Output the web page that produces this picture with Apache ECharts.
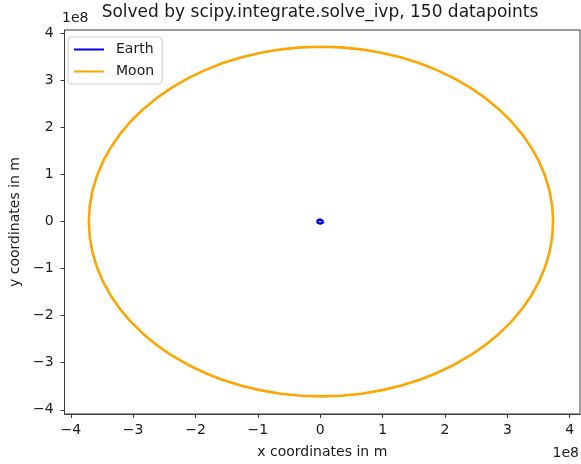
<!DOCTYPE html>
<html>
<head>
<meta charset="utf-8">
<script src="https://cdn.jsdelivr.net/npm/echarts@6/dist/echarts.min.js"></script>
<style>
html,body{margin:0;padding:0;background:#fff;}
#chart{width:581px;height:464px;}
</style>
</head>
<body>
<div id="chart"></div>
<script>
// Values, in units of 1e8 m
const moonX = [3.734, 3.720, 3.678, 3.607, 3.510, 3.385, 3.235, 3.061, 2.863, 2.644, 2.405, 2.147, 1.873, 1.585, 1.285, 0.975, 0.658, 0.336, 0.012,
  -0.312, -0.634, -0.951, -1.261, -1.561, -1.849, -2.123, -2.380, -2.620, -2.839, -3.037, -3.211, -3.361, -3.486, -3.583, -3.654, -3.696, -3.710,
  -3.696, -3.654, -3.583, -3.486, -3.361, -3.211, -3.037, -2.839, -2.620, -2.380, -2.123, -1.849, -1.561, -1.261, -0.951, -0.634, -0.312, 0.012,
  0.336, 0.658, 0.975, 1.285, 1.585, 1.873, 2.147, 2.405, 2.644, 2.863, 3.061, 3.235, 3.385, 3.510, 3.607, 3.678, 3.720, 3.734];
const moonY = [0, 0.324, 0.645, 0.962, 1.271, 1.570, 1.858, 2.131, 2.388, 2.627, 2.846, 3.043, 3.217, 3.367, 3.491, 3.588, 3.659, 3.701, 3.715,
  3.701, 3.659, 3.588, 3.491, 3.367, 3.217, 3.043, 2.846, 2.627, 2.388, 2.131, 1.858, 1.570, 1.271, 0.962, 0.645, 0.324, 0,
  -0.324, -0.645, -0.962, -1.271, -1.570, -1.858, -2.131, -2.388, -2.627, -2.846, -3.043, -3.217, -3.367, -3.491, -3.588, -3.659, -3.701, -3.715,
  -3.701, -3.659, -3.588, -3.491, -3.367, -3.217, -3.043, -2.846, -2.627, -2.388, -2.131, -1.858, -1.570, -1.271, -0.962, -0.645, -0.324, 0];
const earthX = [0.050, 0.043, 0.025, 0, -0.025, -0.043, -0.050, -0.043, -0.025, 0, 0.025, 0.043, 0.050];
const earthY = [0, 0.023, 0.039, 0.045, 0.039, 0.023, 0, -0.023, -0.039, -0.045, -0.039, -0.023, 0];
const tickValues = [-4, -3, -2, -1, 0, 1, 2, 3, 4];
const UNIT = 1e8;
const titleText = 'Solved by scipy.integrate.solve_ivp, 150 datapoints';
const xName = 'x coordinates in m';
const yName = 'y coordinates in m';
const offsetText = '1e8';

const pairs = (xs, ys) => xs.map((x, i) => [x * UNIT, ys[i] * UNIT]);
const ticksM = tickValues.map(v => v * UNIT);
const fmt = v => { const n = Math.round(v / UNIT); return n < 0 ? '\u2212' + (-n) : String(n); };
const FONT = 'DejaVu Sans';
const FS = 14;
const TXT = '#1a1a1a';
const AX = '#3a3a3a';

const axisCommon = {
  type: 'value',
  splitLine: {show: false},
  axisLine: {show: true, onZero: false, lineStyle: {color: AX, width: 1}},
  axisTick: {show: true, length: 4, inside: false, lineStyle: {color: AX, width: 1}, customValues: ticksM},
  nameTextStyle: {fontFamily: FONT, fontSize: FS, color: TXT},
  nameLocation: 'middle'
};

const chart = echarts.init(document.getElementById('chart'), null, {renderer: 'canvas'});
chart.setOption({
  animation: false,
  backgroundColor: '#fff',
  grid: {left: 62, right: 1, top: 30, bottom: 49, show: true, borderColor: AX, borderWidth: 1, containLabel: false},
  legend: {
    data: ['Earth', 'Moon'],
    left: 68, top: 37, orient: 'vertical',
    icon: 'rect',
    itemWidth: 30, itemHeight: 2, itemGap: 5,
    padding: [4, 8, 4, 6],
    borderColor: '#cccccc', borderWidth: 1, borderRadius: 3,
    backgroundColor: 'rgba(255,255,255,0.8)',
    textStyle: {fontFamily: FONT, fontSize: FS, color: TXT, padding: [0, 0, 0, 7], lineHeight: 17}
  },
  xAxis: Object.assign({}, axisCommon, {
    min: -4.10 * UNIT, max: 4.165 * UNIT,
    name: xName, nameGap: 31,
    axisLabel: {customValues: ticksM, formatter: fmt, fontFamily: FONT, fontSize: FS, color: TXT, margin: 9}
  }),
  yAxis: Object.assign({}, axisCommon, {
    min: -4.09 * UNIT, max: 4.07 * UNIT,
    name: yName, nameGap: 38,
    axisLabel: {customValues: ticksM, formatter: fmt, fontFamily: FONT, fontSize: FS, color: TXT, margin: 11}
  }),
  graphic: [
    {type: 'text', x: 320, y: 4, style: {text: titleText, font: '17px "DejaVu Sans"', fill: TXT, textAlign: 'center', textVerticalAlign: 'top'}},
    {type: 'text', x: 62, y: 11, style: {text: offsetText, font: FS + 'px "DejaVu Sans"', fill: TXT, textAlign: 'left', textVerticalAlign: 'top'}},
    {type: 'text', x: 579, y: 446, style: {text: offsetText, font: FS + 'px "DejaVu Sans"', fill: TXT, textAlign: 'right', textVerticalAlign: 'top'}}
  ],
  series: [
    {name: 'Earth', type: 'line', data: pairs(earthX, earthY), symbol: 'none', smooth: false,
      lineStyle: {color: '#0000ff', width: 2.4}, itemStyle: {color: '#0000ff'}},
    {name: 'Moon', type: 'line', data: pairs(moonX, moonY), symbol: 'none', smooth: false,
      lineStyle: {color: '#ffa500', width: 2.6}, itemStyle: {color: '#ffa500'}}
  ]
});
</script>
</body>
</html>
